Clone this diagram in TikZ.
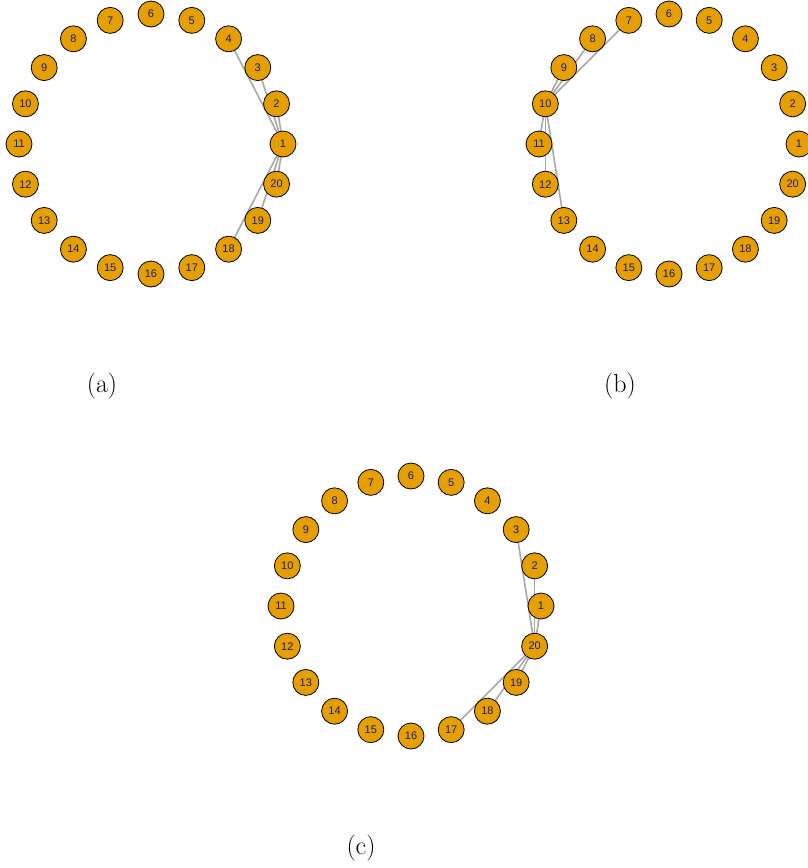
\documentclass[tikz,border=0pt]{standalone}
\usepackage{fontspec}
\newfontfamily\nodefont{Liberation Sans}
\definecolor{nodefill}{HTML}{E69F00}
\definecolor{labelcol}{HTML}{1A1A80}
\definecolor{edgecol}{HTML}{A8A8A8}
\begin{document}
\begin{tikzpicture}[x=1pt,y=-1pt,
  vnode/.style={circle,draw=black,line width=0.8pt,fill=nodefill,minimum size=26pt,inner sep=0pt,text=labelcol,font=\nodefont\fontsize{11}{13}\selectfont},
  edge/.style={draw=edgecol,line width=1.6pt},
  captionlabel/.style={font=\fontsize{26}{30}\selectfont}]
\useasboundingbox (0,0) rectangle (807,868);
\foreach \k in {1,...,20}{
  \coordinate (a\k) at ({151+132*cos((\k-1)*18)},{144-130*sin((\k-1)*18)});
  \coordinate (b\k) at ({669+130*cos((\k-1)*18)},{144-130*sin((\k-1)*18)});
  \coordinate (c\k) at ({411+130*cos((\k-1)*18)},{606-130*sin((\k-1)*18)});
}
\foreach \j in {2,3,4,18,19,20}{\draw[edge] (a1) -- (a\j);}
\foreach \j in {7,8,9,11,12,13}{\draw[edge] (b10) -- (b\j);}
\foreach \j in {1,2,3,17,18,19}{\draw[edge] (c20) -- (c\j);}
\foreach \k in {1,...,20}{
  \node[vnode] (na\k) at (a\k) {\k};
  \node[vnode] (nb\k) at (b\k) {\k};
  \node[vnode] (nc\k) at (c\k) {\k};
}
\node[captionlabel] (capa) at (102,386) {(a)};
\node[captionlabel] (capb) at (620,386) {(b)};
\node[captionlabel] (capc) at (361,848) {(c)};
\end{tikzpicture}
\end{document}
